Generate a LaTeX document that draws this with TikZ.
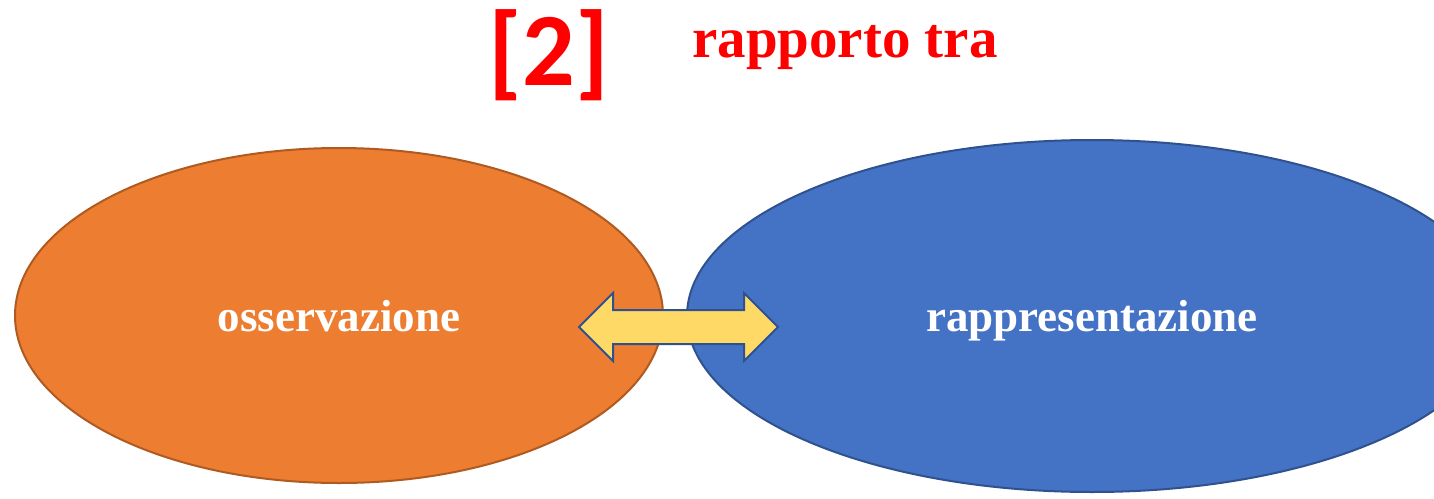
\documentclass[tikz,border=0pt]{standalone}
\usepackage{fontspec}
\setmainfont{Liberation Serif}
\newfontfamily\calibri{Carlito}
\usepackage{tikz}
\usetikzlibrary{shapes.geometric}
\definecolor{obsfill}{HTML}{ED7D31}
\definecolor{obsline}{HTML}{AE5A21}
\definecolor{repfill}{HTML}{4472C4}
\definecolor{repline}{HTML}{2F528F}
\definecolor{linkfill}{HTML}{FFD966}
\tikzset{oval/.style={ellipse, draw, line width=1pt, inner sep=0pt, text=white, text depth=0pt,
    font=\bfseries\fontsize{22.5}{27}\selectfont}}

\begin{document}
\begin{tikzpicture}[x=0.5pt,y=-0.5pt]
	\useasboundingbox (0,0) rectangle (1434,498);
	\clip (0,0) rectangle (1434,498);
	\node[text=red, font=\calibri\bfseries\fontsize{52}{60}\selectfont] at (549,55) (num) {[2]};
	\node[text=red, font=\bfseries\fontsize{28.5}{34}\selectfont, anchor=base] at (845,57) (title) {rapporto tra};
	\node[oval, fill=obsfill, draw=obsline, minimum width=324pt, minimum height=167.5pt] at (339,315.5) (obs) {osservazione};
	\node[oval, fill=repfill, draw=repline, minimum width=405pt, minimum height=176pt] at (1092,316) (rep) {rappresentazione};
	% double block arrow between the two ovals
	\coordinate (link) at (678.5,327);
	\draw[draw=repline, fill=linkfill, line width=1pt, line join=miter]
	  (link) ++(-99.5,0) -- ++(34,-34) -- ++(0,17) -- ++(131,0) -- ++(0,-17) -- ++(34,34)
	  -- ++(-34,34) -- ++(0,-17) -- ++(-131,0) -- ++(0,17) -- cycle;
\end{tikzpicture}
\end{document}
